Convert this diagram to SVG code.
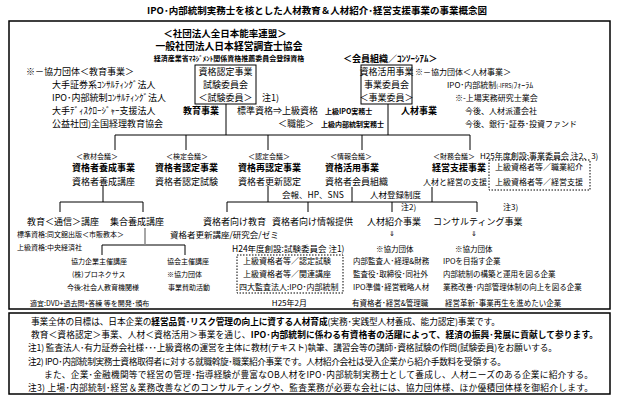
<svg xmlns="http://www.w3.org/2000/svg" width="619" height="401" viewBox="0 0 619 401">
<style>
text{font-family:"Noto Sans CJK JP","Noto Sans CJK SC",sans-serif;fill:#000;font-size:9px}
.b{font-weight:bold}
.s55{font-size:5.5px}
.s7{font-size:7px}
.s75{font-size:7.5px}
.s8{font-size:8px}
.s85{font-size:8.5px}
.n{font-size:8.7px}
.m{text-anchor:middle}
.e{text-anchor:end}
.ln{stroke:#000;stroke-width:1;fill:none}
.gl{stroke:#888;stroke-width:1.5;fill:none}
.frame{fill:#fff;stroke:#000;stroke-width:1.5}
.box{fill:#fff;stroke:#000;stroke-width:1}
.dot{fill:none;stroke:#000;stroke-width:1;stroke-dasharray:1.5 1.5}
</style>
<rect width="619" height="401" fill="#fff"/>
<g id="title"><text class="b m" x="317" y="13.5" style="font-size:9.5px">IPO･内部統制実務士を核とした人材教育＆人材紹介･経営支援事業の事業概念図</text></g>
<g id="frames">
<rect class="frame" x="9" y="21" width="601" height="288"/>
<rect class="frame" x="9" y="313" width="601" height="81"/>
</g>
<g id="connectors">
<path class="ln" d="M226 104V135M388 104V135M115 135H470M115 135V150M186 135V150M268 135V150M362 135V150M470 135V150"/>
<path class="ln" d="M103 186V202M60 202H143M60 202V212M143 202V212"/>
<path class="ln" d="M268 186V202M352 187V202M432 187V202M227 202H477M227 202V212M308 202V212M392 202V212M477 202V212"/>
<path class="ln" d="M102 245H185M102 245V255M185 245V255"/>
<path class="gl" d="M145 228V245"/>
</g>
<g id="org">
<text class="b m" x="225" y="36.5" style="font-size:9.5px">＜社団法人全日本能率連盟＞</text>
<text class="b m" x="229" y="49.5" style="font-size:9.8px">一般社団法人日本経営調査士協会</text>
<text class="b m s7" x="229" y="60.5">経済産業省ﾏﾈｼﾞﾒﾝﾄ関係資格推薦委員会登録資格</text>
</g>
<g id="coop-edu">
<text x="26" y="75.3">※－協力団体＜教育事業＞</text>
<text x="52" y="88.3">大手証券系ｺﾝｻﾙﾃｨﾝｸﾞ法人</text>
<text x="52" y="101.3">IPO･内部統制ｺﾝｻﾙﾃｨﾝｸﾞ法人</text>
<text x="52" y="114.3">大手ﾃﾞｨｽｸﾛｰｼﾞｬｰ支援法人</text>
<text x="52" y="127.3">公益社団)全国経理教育協会</text>
</g>
<g id="box-exam">
<rect class="box" x="195" y="65" width="61" height="39"/>
<text class="m" x="225.5" y="75.3">資格認定事業</text>
<text class="m" x="225.5" y="88.3">試験委員会</text>
<text class="m" x="225.5" y="101.3">＜試験委員＞</text>
<text x="262" y="101.3">注1)</text>
</g>
<g id="box-member">
<text class="b" x="343" y="61.5">＜会員組織／ｺﾝｿｰｼｱﾑ＞</text>
<rect class="box" x="361" y="65" width="51" height="39"/>
<text class="m" x="386.5" y="75.3">資格活用事業</text>
<text class="m" x="386.5" y="88.3">事業委員会</text>
<text class="m" x="386.5" y="101.3">＜事業委員＞</text>
</g>
<g id="coop-hr">
<text class="s8" x="415" y="75">※－協力団体＜人材事業＞</text>
<text class="s8" x="447" y="88">IPO･内部統制<tspan class="s55">(-IFRS)</tspan>ﾌｫｰﾗﾑ</text>
<text class="s8" x="455" y="101">※-上場実務研究士業会</text>
<text class="s8" x="465" y="114">今後、人材派遣会社</text>
<text class="s8" x="465" y="127">今後、銀行･証券･投資ファンド</text>
</g>
<g id="center">
<text class="b e" x="219" y="114.3">教育事業</text>
<text x="237" y="114.3">標準資格⇒上級資格</text>
<text class="b s7" x="325" y="114">上級IPO実務士</text>
<text x="278" y="127.3">＜職能＞</text>
<text class="b s7" x="321" y="127">上級内部統制実務士</text>
<text class="b" x="401" y="114.3">人材事業</text>
</g>
<g id="n-yousei">
<text class="s7" x="76" y="158.5">＜教材会議＞</text>
<text class="b" x="72" y="171.3">資格者養成事業</text>
<text x="72" y="185.3">資格者養成講座</text>
</g>
<g id="n-nintei">
<text class="s7" x="166" y="158.5">＜検定会議＞</text>
<text class="b" x="155" y="171.3">資格者認定事業</text>
<text x="155" y="185.3">資格者認定試験</text>
</g>
<g id="n-sainintei">
<text class="s7" x="248" y="158.5">＜認定会議＞</text>
<text class="b" x="238" y="171.3">資格再認定事業</text>
<text x="238" y="185.3">資格者更新認定</text>
</g>
<g id="n-katsuyou">
<text class="s7" x="330" y="158.5">＜情報会議＞</text>
<text class="b" x="325" y="171.3">資格活用事業</text>
<text x="325" y="185.3">資格者会員組織</text>
<text class="s85" x="282" y="198">会報、HP、SNS</text>
<text class="s85" x="370" y="198">人材登録制度</text>
</g>
<g id="n-keiei">
<text class="s7" x="433" y="158.5">＜財務会議＞</text>
<text class="b" x="432" y="171.3">経営支援事業</text>
<text class="s8" x="423" y="185.3">人材と経営の支援</text>
</g>
<g id="h25">
<text class="s8" x="480" y="158.5">H25年度創設:事業委員会 注2、3)</text>
<rect class="dot" x="489" y="160" width="101" height="30"/>
<text class="s8" x="495" y="170">上級資格者等／職業紹介</text>
<text class="s8" x="495" y="185">上級資格者等／経営支援</text>
</g>
<g id="n-tsushin">
<text x="27" y="225.3">教育＜通信＞講座</text>
<text class="s7" x="17" y="236.5">標準資格:同文舘出版＜市販教本＞</text>
<text class="s7" x="17" y="249.5">上級資格:中央経済社</text>
</g>
<g id="n-shugo">
<text x="110" y="225.3">集合養成講座</text>
</g>
<g id="n-kigyo">
<text class="s7" x="71" y="263.5">協力企業主催講座</text>
<text class="s7" x="72" y="276.5">(株)プロネクサス</text>
<text class="s7" x="67" y="289.5">今後:社会人教育機関様</text>
<text class="s7" x="30" y="305.5">適宜:DVD+過去問+答練 等を開発･頒布</text>
</g>
<g id="n-kyokai">
<text class="s7" x="167" y="263.5">協会主催講座</text>
<text class="s7" x="167" y="276.5">※協力団体</text>
<text class="s7" x="168" y="289.5">事業賛助活動</text>
</g>
<g id="n-kyoiku">
<text x="203" y="224.8">資格者向け教育</text>
<text class="s85" x="170" y="237.5">資格者更新講座/研究会/ゼミ</text>
</g>
<g id="n-joho">
<text x="272" y="224.8">資格者向け情報提供</text>
</g>
<g id="h24">
<text class="s85" x="232" y="252">H24年度創設:試験委員会 注1)</text>
<rect class="dot" x="237" y="255" width="106" height="38"/>
<text class="s8" x="243" y="264">上級資格者等／認定試験</text>
<text class="s8" x="243" y="277">上級資格者等／関連講座</text>
<text class="s8" x="239" y="290">四大監査法人:IPO･内部統制</text>
<text class="s8 e" x="307" y="306">H25年2月</text>
</g>
<g id="n-shokai">
<text class="s8" x="401" y="210">注2)</text>
<text x="367" y="225.3">人材紹介事業</text>
<text class="s7 m" x="392" y="236">⇓</text>
<text class="s75" x="376" y="252">※協力団体</text>
<text class="s75" x="353" y="264">内部監査人･経理&amp;財務</text>
<text class="s75" x="353" y="277">監査役･取締役･同社外</text>
<text class="s75" x="353" y="290">IPO準備･経営戦略人材</text>
<text class="s75" x="352" y="306">有資格者･経営&amp;管理職</text>
</g>
<g id="n-consul">
<text class="s8" x="503" y="210">注3)</text>
<text x="433" y="225.3">コンサルティング事業</text>
<text class="s7 m" x="474" y="236">⇓</text>
<text class="s75" x="455" y="252">※協力団体</text>
<text class="s75" x="443" y="264">IPOを目指す企業</text>
<text class="s75" x="443" y="277">内部統制の構築と運用を図る企業</text>
<text class="s75" x="443" y="290">業務改善･内部管理体制の向上を図る企業</text>
<text class="s75" x="445" y="306">経営革新･事業再生を進めたい企業</text>
</g>
<g id="notes">
<text class="n" x="31" y="324.5" textLength="469">事業全体の目標は、日本企業の<tspan class="b">経営品質･リスク管理の向上に資する人材育成</tspan>(実務･実践型人材養成、能力認定)事業です。</text>
<text class="n" x="31" y="338" textLength="567">教育＜資格認定＞事業、人材＜資格活用＞事業を通じ、<tspan class="b">IPO･内部統制に係わる有資格者の活躍によって、経済の振興･発展に貢献して参ります。</tspan></text>
<text class="n" x="28" y="351.3" textLength="529">注1) 監査法人･有力証券会社様･･･上級資格の運営を主体に教材(テキスト)執筆、講習会等の講師･資格試験の作問(試験委員)をお願いする。</text>
<text class="n" x="28" y="364.5" textLength="478">注2) IPO･内部統制実務士資格取得者に対する就職斡旋･職業紹介事業です。人材紹介会社は受入企業から紹介手数料を受領する。</text>
<text class="n" x="44" y="377.6" textLength="549">また、企業･金融機関等で経営の管理･指導経験が豊富なOB人材をIPO･内部統制実務士として養成し、人材ニーズのある企業に紹介する。</text>
<text class="n" x="28" y="390.6" textLength="565">注3) 上場･内部統制･経営＆業務改善などのコンサルティングや、監査業務が必要な会社には、協力団体様、ほか優積団体様を御紹介します。</text>
</g>
</svg>
